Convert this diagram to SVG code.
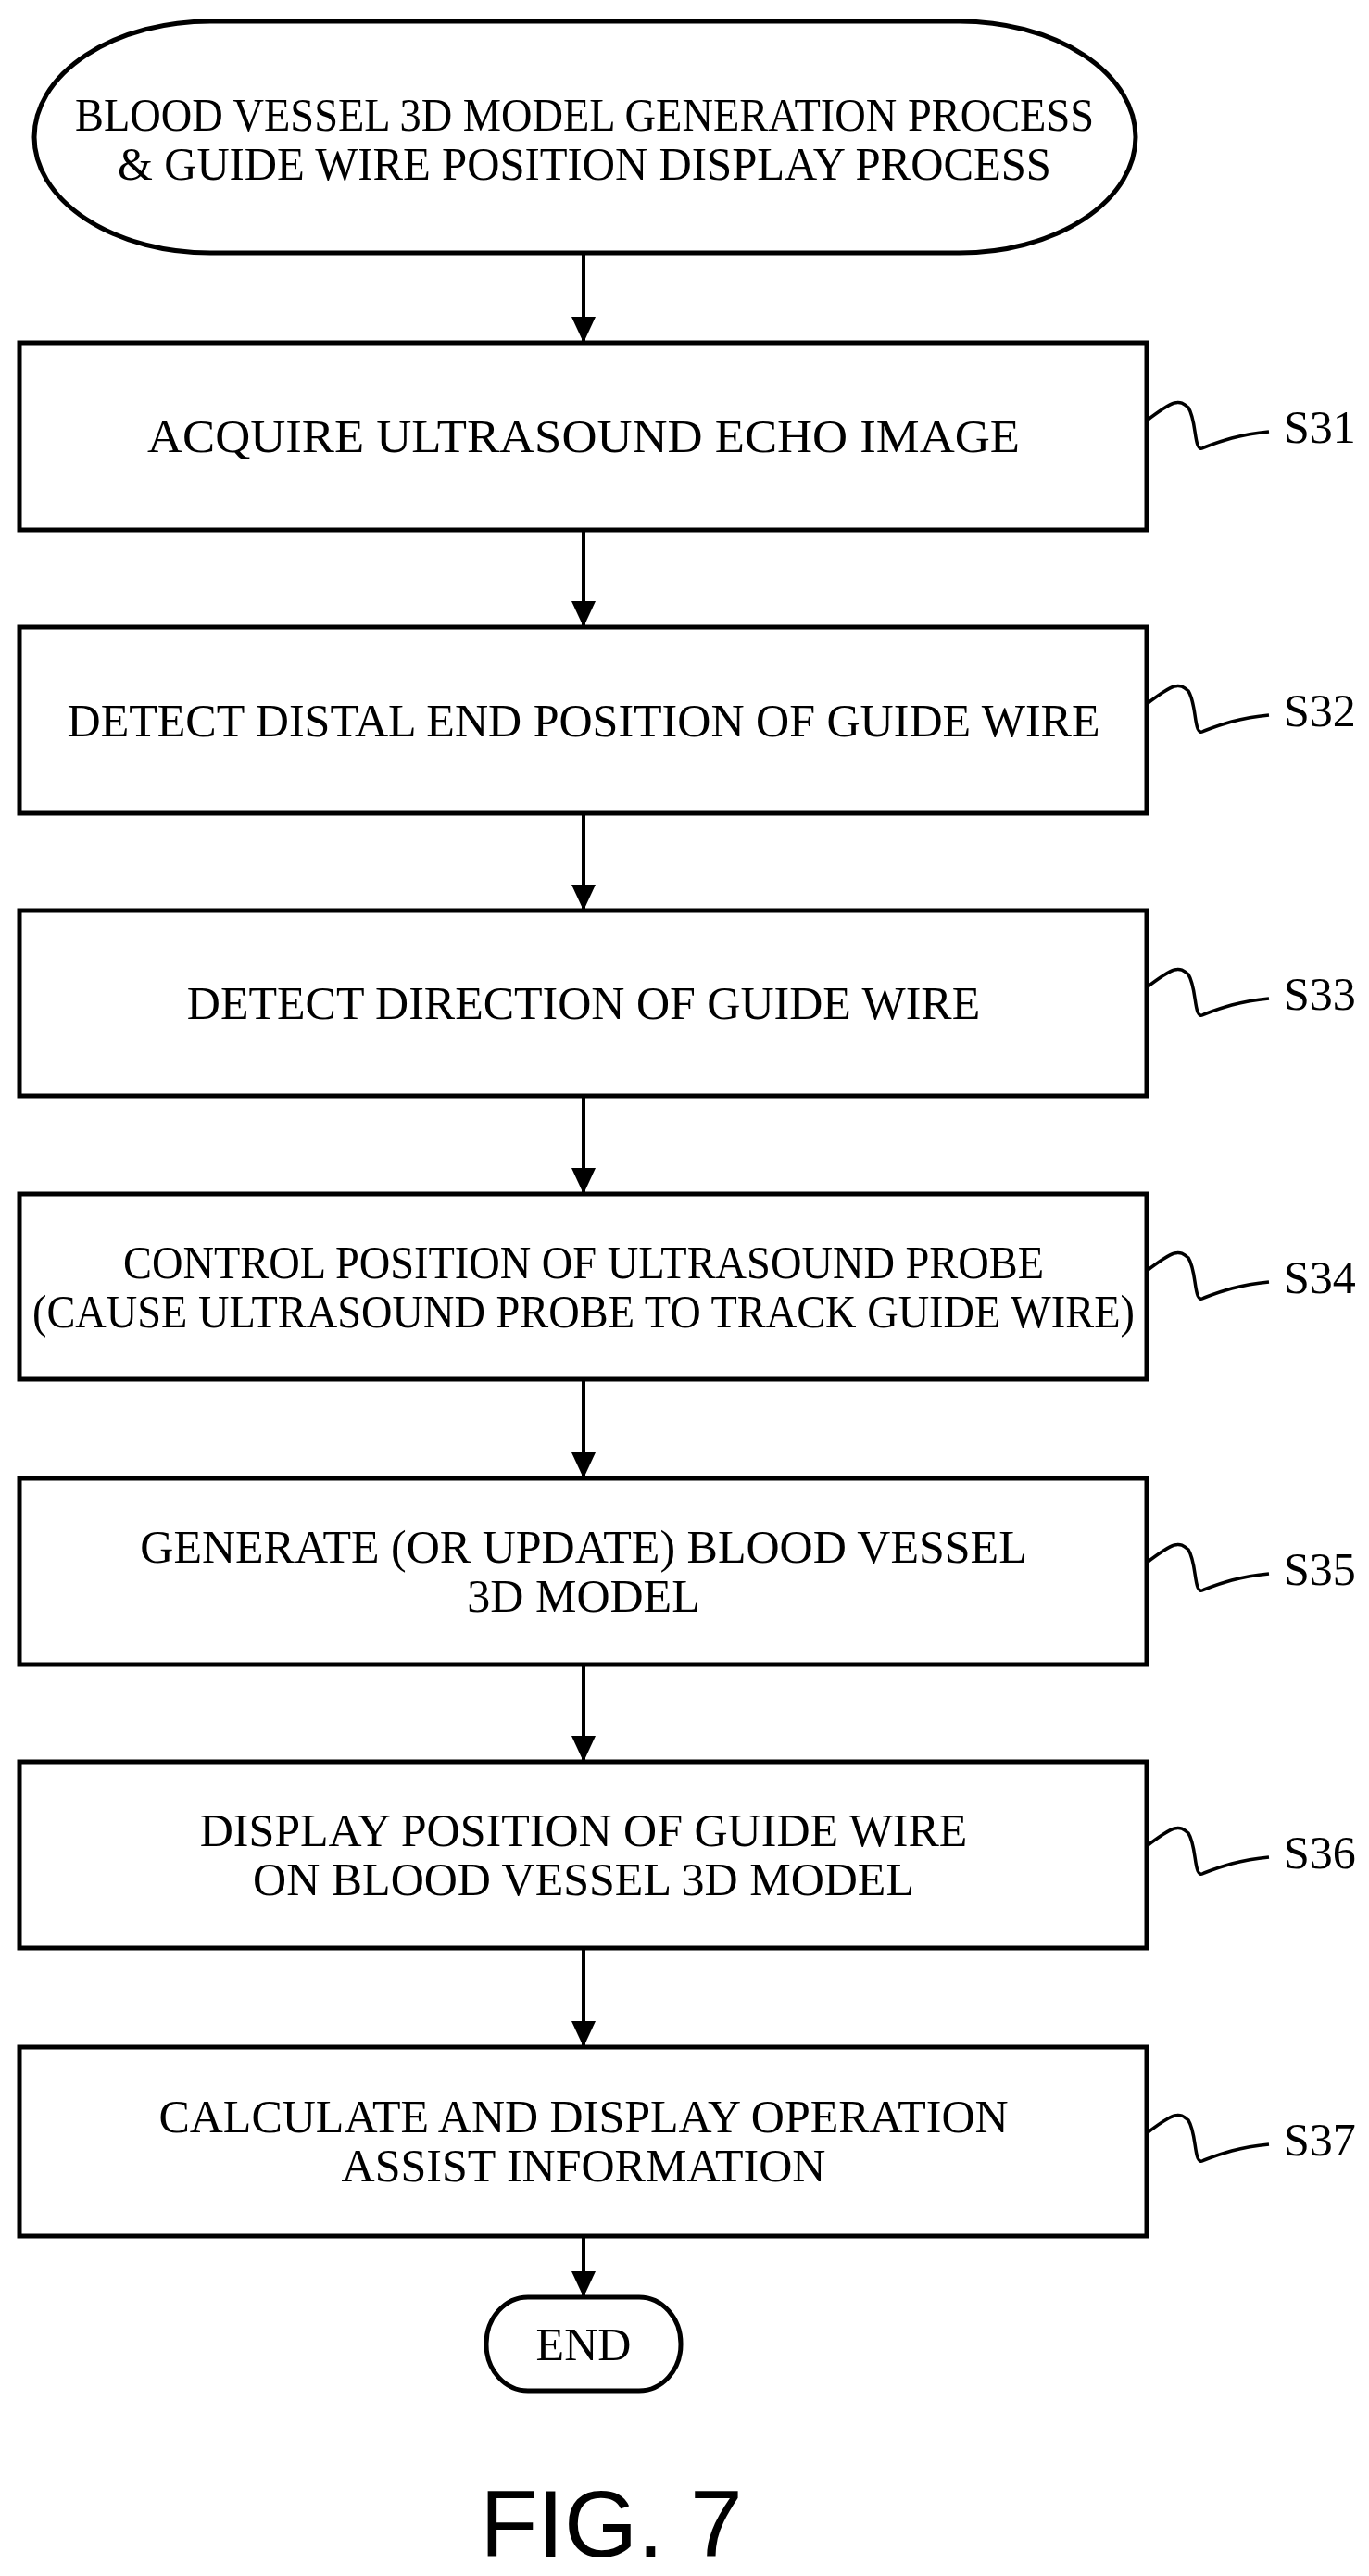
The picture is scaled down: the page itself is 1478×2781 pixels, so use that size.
<svg xmlns="http://www.w3.org/2000/svg" width="1478" height="2781" viewBox="0 0 1478 2781">
<style>
.b{fill:#fff;stroke:#000;stroke-width:5}
.t{font-family:"Liberation Serif",serif;font-size:50px;text-anchor:middle;fill:#000}
.s{font-family:"Liberation Serif",serif;font-size:50px;fill:#000}
.c{fill:none;stroke:#000;stroke-width:4}
.q{fill:none;stroke:#000;stroke-width:3.5}
</style>
<defs>
<marker id="a" markerWidth="28" markerHeight="26" refX="28" refY="13" orient="auto" markerUnits="userSpaceOnUse" viewBox="0 0 28 26"><path d="M0,0 L28,13 L0,26 Z" fill="#000"/></marker>
<path id="sq" d="M0,-17 C30,-40 35,-40 45,-31 C55,-15 50,20 62,12 C80,5 100,-2 132,-5"/>
</defs>
<rect width="1478" height="2781" fill="#fff"/>
<g id="connectors">
<line class="c" x1="630" y1="273" x2="630" y2="370" marker-end="url(#a)"/>
<line class="c" x1="630" y1="572" x2="630" y2="677" marker-end="url(#a)"/>
<line class="c" x1="630" y1="878" x2="630" y2="983" marker-end="url(#a)"/>
<line class="c" x1="630" y1="1183" x2="630" y2="1289" marker-end="url(#a)"/>
<line class="c" x1="630" y1="1489" x2="630" y2="1596" marker-end="url(#a)"/>
<line class="c" x1="630" y1="1797" x2="630" y2="1902" marker-end="url(#a)"/>
<line class="c" x1="630" y1="2103" x2="630" y2="2210" marker-end="url(#a)"/>
<line class="c" x1="630" y1="2414" x2="630" y2="2480" marker-end="url(#a)"/>
</g>
<g id="start">
<rect class="b" x="37" y="23" width="1189" height="250" rx="190" ry="125"/>
<text class="t" x="631" y="141" textLength="1100" lengthAdjust="spacingAndGlyphs">BLOOD VESSEL 3D MODEL GENERATION PROCESS</text>
<text class="t" x="631" y="194" textLength="1008" lengthAdjust="spacingAndGlyphs">&amp; GUIDE WIRE POSITION DISPLAY PROCESS</text>
</g>
<g id="s31">
<rect class="b" x="21" y="370" width="1217" height="202"/>
<text class="t" x="630" y="488" textLength="942" lengthAdjust="spacingAndGlyphs">ACQUIRE ULTRASOUND ECHO IMAGE</text>
<use href="#sq" class="q" transform="translate(1238,471)"/>
<text class="s" x="1386" y="478">S31</text>
</g>
<g id="s32">
<rect class="b" x="21" y="677" width="1217" height="201"/>
<text class="t" x="630" y="795" textLength="1115" lengthAdjust="spacingAndGlyphs">DETECT DISTAL END POSITION OF GUIDE WIRE</text>
<use href="#sq" class="q" transform="translate(1238,777)"/>
<text class="s" x="1386" y="784">S32</text>
</g>
<g id="s33">
<rect class="b" x="21" y="983" width="1217" height="200"/>
<text class="t" x="630" y="1100">DETECT DIRECTION OF GUIDE WIRE</text>
<use href="#sq" class="q" transform="translate(1238,1083)"/>
<text class="s" x="1386" y="1090">S33</text>
</g>
<g id="s34">
<rect class="b" x="21" y="1289" width="1217" height="200"/>
<text class="t" x="630" y="1380" textLength="994" lengthAdjust="spacingAndGlyphs">CONTROL POSITION OF ULTRASOUND PROBE</text>
<text class="t" x="630" y="1433" textLength="1190" lengthAdjust="spacingAndGlyphs">(CAUSE ULTRASOUND PROBE TO TRACK GUIDE WIRE)</text>
<use href="#sq" class="q" transform="translate(1238,1389)"/>
<text class="s" x="1386" y="1396">S34</text>
</g>
<g id="s35">
<rect class="b" x="21" y="1596" width="1217" height="201"/>
<text class="t" x="630" y="1687">GENERATE (OR UPDATE) BLOOD VESSEL</text>
<text class="t" x="630" y="1740">3D MODEL</text>
<use href="#sq" class="q" transform="translate(1238,1704)"/>
<text class="s" x="1386" y="1711">S35</text>
</g>
<g id="s36">
<rect class="b" x="21" y="1902" width="1217" height="201"/>
<text class="t" x="630" y="1993">DISPLAY POSITION OF GUIDE WIRE</text>
<text class="t" x="630" y="2046">ON BLOOD VESSEL 3D MODEL</text>
<use href="#sq" class="q" transform="translate(1238,2010)"/>
<text class="s" x="1386" y="2017">S36</text>
</g>
<g id="s37">
<rect class="b" x="21" y="2210" width="1217" height="204"/>
<text class="t" x="630" y="2302">CALCULATE AND DISPLAY OPERATION</text>
<text class="t" x="630" y="2355">ASSIST INFORMATION</text>
<use href="#sq" class="q" transform="translate(1238,2320)"/>
<text class="s" x="1386" y="2327">S37</text>
</g>
<g id="end">
<rect class="b" x="525" y="2480" width="210" height="101" rx="45" ry="50"/>
<text class="t" x="630" y="2548">END</text>
</g>
<text x="660" y="2760" font-family="Liberation Sans,sans-serif" font-size="102" text-anchor="middle">FIG. 7</text>
</svg>
